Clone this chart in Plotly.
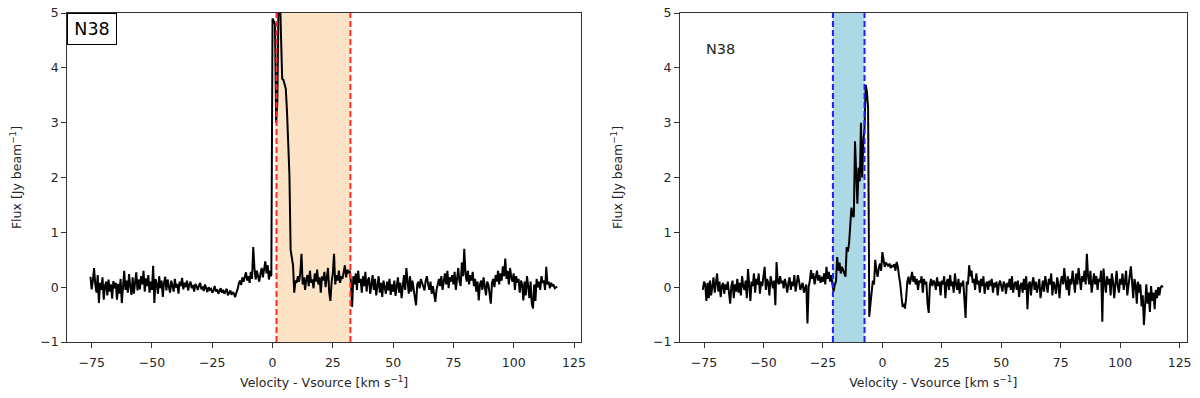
import numpy as np
import plotly.graph_objects as go

# ---------------- data ----------------
V_START = -75.5          # first channel velocity [km/s]
CHAN = 0.5               # channel width [km/s]

FLUX_LEFT = [
    0.19, -0.04, 0.12, 0.35, 0.05, -0.10, 0.22, -0.29, 0.08, -0.05,
    0.18, -0.23, 0.02, 0.10, -0.15, 0.14, -0.08, 0.05, -0.21, 0.11,
    -0.02, 0.08, -0.23, 0.06, -0.12, 0.15, -0.29, 0.04, 0.30, -0.05,
    0.12, -0.10, 0.24, 0.02, -0.14, 0.18, -0.12, 0.09, 0.27, -0.06,
    0.14, -0.04, 0.20, 0.05, 0.30, -0.08, 0.16, 0.02, 0.22, -0.10,
    0.10, -0.05, 0.39, -0.29, 0.15, 0.05, -0.12, 0.20, -0.02, 0.12,
    -0.18, 0.08, 0.19, -0.06, 0.14, 0.01, -0.10, 0.12, 0.04, -0.08,
    0.15, -0.01, 0.06, -0.12, 0.10, 0.02, 0.17, -0.04, 0.08, 0.00,
    0.12, -0.06, 0.05, 0.10, -0.02, 0.04, -0.08, 0.06, 0.02, -0.05,
    0.03, 0.08, -0.04, 0.01, -0.07, 0.05, -0.02, -0.09, 0.00, -0.05,
    -0.03, -0.10, -0.06, 0.02, -0.08, -0.04, -0.12, -0.07, -0.02, -0.10,
    -0.05, -0.12, -0.08, -0.03, -0.15, -0.10, -0.06, -0.14, -0.09, -0.12,
    -0.18, -0.10, -0.04, 0.06, 0.12, 0.04, 0.18, 0.10, 0.22, 0.27,
    0.12, 0.20, 0.08, 0.28, 0.15, 0.73, 0.35, 0.14, 0.30, 0.20,
    0.10, 0.25, 0.35, 0.18, 0.30, 0.47, 0.25, 0.40, 0.14, 0.30,
    0.20, 4.90, 4.85, 4.80, 3.00, 3.40, 5.30, 5.50, 4.60, 3.80,
    3.78, 3.70, 3.62, 3.20, 2.55, 2.05, 0.68, 0.50, 0.40, -0.10,
    0.12, 0.08, 0.20, 0.10, 0.25, 0.61, 0.05, 0.18, -0.05, 0.15,
    0.22, 0.02, 0.30, 0.08, 0.14, -0.02, 0.25, 0.10, 0.32, 0.05,
    0.18, -0.10, 0.20, 0.12, 0.28, 0.00, 0.15, 0.35, -0.10, -0.25,
    0.10, 0.25, 0.61, 0.05, 0.22, 0.12, 0.30, 0.08, 0.20, 0.15,
    0.28, 0.40, 0.18, 0.32, 0.25, 0.30, 0.10, -0.36, 0.20, 0.05,
    0.25, -0.05, 0.30, 0.08, 0.15, -0.10, 0.20, 0.02, 0.28, -0.08,
    0.12, 0.18, -0.12, 0.10, 0.22, -0.05, 0.15, -0.15, 0.05, 0.20,
    -0.10, 0.08, -0.18, 0.12, 0.00, -0.12, 0.10, -0.06, 0.15, -0.14,
    0.05, -0.08, 0.12, -0.16, 0.02, 0.18, -0.10, 0.08, -0.20, 0.05,
    0.22, -0.05, 0.35, 0.10, -0.12, 0.20, -0.08, 0.12, -0.02, -0.20,
    -0.33, 0.05, 0.10, -0.02, 0.15, 0.08, 0.02, -0.06, 0.12, 0.20,
    0.05, -0.05, 0.10, -0.12, 0.02, -0.18, -0.27, -0.05, 0.08, 0.15,
    0.02, 0.20, -0.05, 0.12, 0.25, 0.05, 0.30, -0.02, 0.18, 0.10,
    0.22, 0.05, 0.28, -0.05, 0.15, 0.35, 0.10, 0.02, 0.45, 0.20,
    0.70, 0.25, 0.10, 0.30, 0.05, 0.22, 0.12, 0.28, 0.02, 0.15,
    -0.08, 0.10, -0.24, 0.05, 0.12, -0.05, 0.18, 0.02, -0.15, 0.10,
    0.05, -0.12, -0.30, 0.08, 0.15, 0.00, 0.22, 0.10, 0.30, 0.05,
    0.25, 0.12, 0.38, 0.20, 0.52, 0.15, 0.30, 0.05, 0.35, 0.18,
    0.10, 0.25, -0.05, 0.20, 0.08, 0.15, -0.10, 0.12, 0.05, -0.24,
    0.10, -0.15, 0.20, 0.02, -0.20, 0.10, -0.30, -0.39, 0.05, -0.25,
    0.15, 0.00, 0.10, -0.05, 0.20, 0.08, 0.12, -0.05, 0.37, 0.05,
    0.10, -0.02, 0.08, 0.02, 0.05, -0.02, 0.00, 0.01,
]

FLUX_RIGHT = [
    -0.05, 0.10, 0.05, -0.25, 0.08, -0.20, 0.12, -0.15, 0.02, 0.18,
    -0.10, 0.05, 0.25, -0.08, 0.10, -0.18, 0.02, 0.08, -0.12, 0.05,
    -0.05, 0.10, -0.15, -0.30, 0.02, 0.12, -0.20, 0.05, -0.08, 0.15,
    -0.10, 0.08, -0.15, 0.20, 0.02, -0.05, 0.12, -0.20, 0.33, 0.05,
    -0.25, 0.10, 0.02, 0.25, -0.10, 0.15, 0.05, 0.25, -0.12, 0.10,
    0.02, 0.20, 0.37, -0.05, 0.15, 0.08, -0.15, 0.20, 0.10, -0.02,
    0.12, -0.33, 0.46, 0.10, 0.05, 0.20, 0.07, 0.12, -0.02, 0.15,
    0.05, -0.10, 0.08, 0.18, -0.05, 0.10, 0.02, 0.22, -0.08, 0.05,
    0.22, 0.10, -0.05, 0.02, 0.08, -0.10, 0.00, 0.05, -0.66, 0.00,
    0.12, 0.31, 0.15, 0.25, 0.05, 0.20, 0.30, 0.12, 0.22, 0.08,
    0.19, 0.10, 0.25, 0.05, 0.37, 0.15, 0.28, 0.10, 0.22, 0.05,
    -0.08, 0.05, 0.10, 0.55, 0.30, 0.45, 0.25, 0.37, 0.30, 0.25,
    0.19, 0.73, 0.65, 0.80, 1.05, 1.45, 1.30, 1.28, 2.66, 1.90,
    1.52, 2.18, 1.93, 3.00, 2.00, 2.66, 2.90, 3.69, 3.56, 3.27,
    -0.54, -0.30, 0.00, 0.12, 0.05, 0.50, 0.30, 0.19, 0.35, 0.43,
    0.30, 0.64, 0.50, 0.37, 0.45, 0.40, 0.38, 0.43, 0.35, 0.40,
    0.37, 0.42, 0.30, 0.46, 0.38, 0.20, 0.07, -0.15, -0.36, -0.30,
    -0.39, -0.20, 0.10, 0.19, 0.05, 0.15, 0.28, 0.10, 0.20, 0.05,
    0.15, -0.05, 0.12, 0.08, 0.20, -0.10, 0.15, 0.05, 0.10, -0.30,
    -0.47, 0.05, 0.15, 0.02, 0.12, 0.08, -0.05, 0.18, 0.02, 0.10,
    -0.15, 0.12, 0.05, 0.20, -0.20, 0.08, 0.15, -0.05, 0.22, 0.02,
    0.10, -0.10, 0.25, 0.05, -0.05, 0.15, -0.12, 0.08, 0.02, 0.12,
    -0.20, -0.56, 0.10, 0.05, 0.40, 0.20, 0.30, 0.08, 0.15, -0.05,
    0.25, 0.05, 0.12, -0.10, 0.15, 0.02, 0.20, -0.12, 0.05, 0.10,
    -0.05, 0.12, 0.02, 0.15, -0.10, 0.08, 0.00, 0.10, -0.15, 0.05,
    0.12, 0.02, -0.08, 0.10, 0.05, -0.12, 0.08, 0.00, 0.15, -0.05,
    0.20, -0.10, 0.05, 0.10, -0.05, 0.12, -0.18, 0.02, 0.08, -0.10,
    0.15, -0.05, 0.20, -0.40, 0.05, 0.10, -0.15, 0.08, 0.18, -0.05,
    0.10, -0.10, 0.05, 0.15, -0.20, 0.02, 0.12, -0.08, 0.20, 0.05,
    -0.10, 0.15, 0.05, 0.25, -0.15, 0.10, 0.02, -0.12, 0.18, 0.05,
    -0.20, 0.10, 0.20, 0.05, 0.35, 0.10, -0.05, 0.20, -0.15, 0.15,
    0.05, 0.30, 0.10, -0.10, 0.25, 0.05, 0.35, 0.12, -0.05, 0.20,
    0.10, 0.30, 0.05, 0.61, 0.20, 0.05, 0.30, -0.10, 0.15, 0.25,
    0.05, 0.20, -0.05, 0.15, 0.10, 0.30, -0.63, 0.34, 0.10, -0.10,
    0.20, 0.05, 0.15, -0.15, 0.25, 0.10, -0.20, 0.08, 0.30, 0.02,
    -0.10, 0.15, 0.05, 0.25, -0.05, 0.10, 0.30, -0.15, 0.05, 0.20,
    0.38, 0.10, -0.20, 0.15, 0.05, -0.30, 0.10, -0.10, 0.05, -0.35,
    -0.15, -0.69, -0.20, 0.05, -0.30, -0.10, -0.45, 0.02, -0.25, -0.10,
    -0.40, -0.05, -0.20, 0.00, -0.15, 0.00, 0.02, 0.00,
]

WINDOW_LEFT = [1.65, 32.3]     # integration window, left panel [km/s]
WINDOW_RIGHT = [-20.8, -7.5]   # integration window, right panel [km/s]
SOURCE = "N38"

X_TICKS = [-75, -50, -25, 0, 25, 50, 75, 100, 125]
Y_TICKS = [-1, 0, 1, 2, 3, 4, 5]

X_TITLE = "Velocity - Vsource [km s<sup>−1</sup>]"
Y_TITLE = "Flux [Jy beam<sup>−1</sup>]"

# ---------------- figure ----------------
# The page body has an 8px margin: the figure is made smaller so the
# page does not scroll, and page positions below are shifted by OFF.
OFF = 8
W, H = 1200 - OFF, 398 - 2 * OFF
vel_left = V_START + CHAN * np.arange(len(FLUX_LEFT))
vel_right = V_START + CHAN * np.arange(len(FLUX_RIGHT))

FONT = "DejaVu Sans"
AXCOL = "#333333"
TXT = "#262626"

fig = go.Figure()
fig.add_trace(go.Scatter(x=vel_left, y=FLUX_LEFT, mode="lines",
                         line=dict(color="black", width=2),
                         xaxis="x", yaxis="y", showlegend=False))
fig.add_trace(go.Scatter(x=vel_right, y=FLUX_RIGHT, mode="lines",
                         line=dict(color="black", width=2),
                         xaxis="x2", yaxis="y2", showlegend=False))

# shaded windows + dashed boundaries
for (win, xr, yr, fill, lc) in [
    (WINDOW_LEFT, "x", "y", "#FDE3C6", "#FF2A2A"),
    (WINDOW_RIGHT, "x2", "y2", "#ADD8E6", "#1F1FFF"),
]:
    fig.add_shape(type="rect", xref=xr, yref=yr + " domain",
                  x0=win[0], x1=win[1], y0=0, y1=1,
                  fillcolor=fill, line=dict(width=0), layer="below")
    for v in win:
        fig.add_shape(type="line", xref=xr, yref=yr + " domain",
                      x0=v, x1=v, y0=0, y1=1,
                      line=dict(color=lc, width=2, dash="6px,3px"),
                      layer="above")

xdom1 = [(67.3 - OFF) / W, (581 - OFF) / W]
xdom2 = [(680 - OFF) / W, (1186.5 - OFF) / W]
ydom = [1 - (342 - OFF) / H, 1 - (13.0 - OFF) / H]

common_x = dict(range=[-85.1, 127.9], tickvals=X_TICKS, ticks="outside",
                ticklen=5, tickwidth=1, tickcolor=AXCOL, showline=True,
                linecolor=AXCOL, linewidth=1, mirror=True, showgrid=False,
                zeroline=False, automargin=False, ticklabelstandoff=4,
                ticklabeloverflow="allow",
                tickfont=dict(family=FONT, size=12.5, color=TXT),
                title=dict(text=X_TITLE, standoff=11,
                           font=dict(family=FONT, size=12.5, color=TXT)))
common_y = dict(range=[-1, 5], tickvals=Y_TICKS, ticks="outside",
                ticklen=5, tickwidth=1, tickcolor=AXCOL, showline=True,
                linecolor=AXCOL, linewidth=1, mirror=True, showgrid=False,
                zeroline=False, automargin=False, domain=ydom,
                ticklabeloverflow="allow",
                tickfont=dict(family=FONT, size=12.5, color=TXT),
                title=dict(text=Y_TITLE, standoff=27,
                           font=dict(family=FONT, size=12.5, color=TXT)))

fig.update_layout(
    width=W, height=H,
    margin=dict(l=0, r=0, t=0, b=0),
    paper_bgcolor="white", plot_bgcolor="white",
    xaxis=dict(domain=xdom1, anchor="y", **common_x),
    yaxis=dict(anchor="x", **common_y),
    xaxis2=dict(domain=xdom2, anchor="y2", **common_x),
    yaxis2=dict(anchor="x2", **common_y),
    font=dict(family=FONT),
)

fig.add_annotation(text=SOURCE, xref="paper", yref="paper",
                   x=xdom1[0], y=ydom[1], xanchor="left", yanchor="top",
                   showarrow=False, bgcolor="white", bordercolor="black",
                   borderwidth=1, borderpad=5, width=38,
                   font=dict(family=FONT, size=17.5, color="black"))
fig.add_annotation(text=SOURCE, xref="paper", yref="paper",
                   x=(704 - OFF) / W, y=1 - (49 - OFF) / H,
                   xanchor="left", yanchor="middle", showarrow=False,
                   font=dict(family=FONT, size=14.5, color=TXT))

fig.write_html("out.html")
